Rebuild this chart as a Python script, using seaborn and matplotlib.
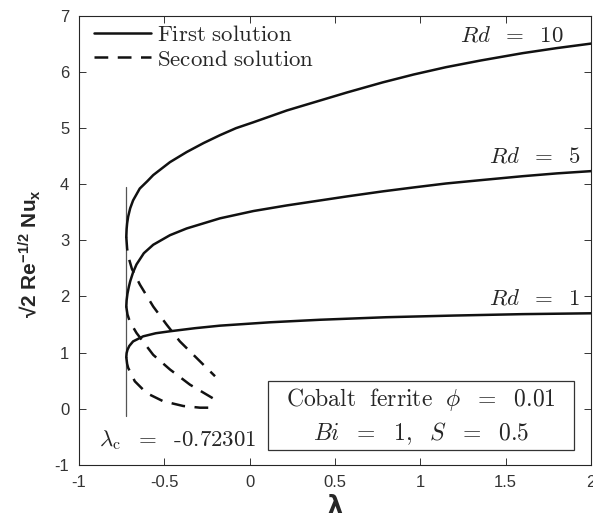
import numpy as np
import pandas as pd
import matplotlib
matplotlib.use("Agg")
import matplotlib.pyplot as plt
from matplotlib.lines import Line2D
from matplotlib.patches import Rectangle
import seaborn as sns

# ---- data ----
lam_c = -0.72301
x_rd10 = [-0.723, -0.721, -0.718, -0.712, -0.70, -0.683, -0.644, -0.60, -0.565, -0.467, -0.369,
          -0.27, -0.174, -0.08, 0.022, 0.218, 0.394, 0.57, 0.78, 0.961, 1.15, 1.355, 1.6, 1.8, 2.0]
first_rd10 = [3.06, 3.20, 3.30, 3.42, 3.57, 3.71, 3.92, 4.05, 4.16, 4.39, 4.57,
              4.73, 4.87, 4.995, 5.10, 5.31, 5.47, 5.63, 5.81, 5.95, 6.08, 6.20, 6.33, 6.42, 6.50]
x_rd5 = [-0.723, -0.721, -0.716, -0.708, -0.70, -0.683, -0.663, -0.62, -0.565, -0.467, -0.369,
         -0.174, 0.022, 0.218, 0.394, 0.57, 0.78, 0.961, 1.15, 1.355, 1.6, 1.8, 2.0]
first_rd5 = [1.82, 1.93, 2.05, 2.17, 2.27, 2.43, 2.57, 2.77, 2.92, 3.09, 3.21,
             3.39, 3.52, 3.62, 3.70, 3.78, 3.87, 3.94, 4.01, 4.07, 4.14, 4.19, 4.23]
x_rd1 = [-0.723, -0.721, -0.716, -0.705, -0.683, -0.624, -0.55, -0.467, -0.32, -0.174,
         0.12, 0.413, 0.8, 1.2, 1.6, 2.0]
first_rd1 = [0.92, 0.99, 1.05, 1.12, 1.20, 1.29, 1.345, 1.38, 1.435, 1.48,
             1.54, 1.585, 1.63, 1.66, 1.685, 1.70]

x_sec_rd10 = [-0.723, -0.718, -0.71, -0.69, -0.643, -0.565, -0.487, -0.409, -0.311, -0.203]
sec_rd10 = [3.06, 2.85, 2.70, 2.49, 2.21, 1.82, 1.50, 1.20, 0.905, 0.58]
x_sec_rd5 = [-0.723, -0.716, -0.702, -0.663, -0.565, -0.467, -0.35, -0.203]
sec_rd5 = [1.82, 1.68, 1.55, 1.35, 0.96, 0.70, 0.43, 0.165]
x_sec_rd1 = [-0.723, -0.718, -0.712, -0.673, -0.604, -0.507, -0.389, -0.291, -0.203]
sec_rd1 = [0.92, 0.80, 0.73, 0.49, 0.28, 0.135, 0.05, 0.02, 0.02]

rd_labels = [r"$Rd\;\ =\;\ 10$", r"$Rd\;\ =\;\ 5$", r"$Rd\;\ =\;\ 1$"]
x_ticks = [-1, -0.5, 0, 0.5, 1, 1.5, 2]
x_ticklabels = ["-1", "-0.5", "0", "0.5", "1", "1.5", "2"]
y_ticks = [-1, 0, 1, 2, 3, 4, 5, 6, 7]
y_ticklabels = ["-1", "0", "1", "2", "3", "4", "5", "6", "7"]

# ---- style ----
sns.set_style("ticks")
plt.rcParams["font.family"] = ["Liberation Sans", "DejaVu Sans"]
plt.rcParams["mathtext.fontset"] = "custom"
plt.rcParams["mathtext.rm"] = "Liberation Sans"
plt.rcParams["mathtext.bf"] = "Liberation Sans:bold"
plt.rcParams["mathtext.it"] = "Liberation Sans:italic"

fig = plt.figure(figsize=(5.93, 5.18), dpi=100)
ax = fig.add_axes([79 / 593, 1 - 465 / 518, (591 - 79) / 593, (465 - 15.5) / 518])

lw = 1.8
ink = "#111111"
dash = (0, (5.5, 3.8))
for xs, ys in [(x_rd10, first_rd10), (x_rd5, first_rd5), (x_rd1, first_rd1)]:
    sns.lineplot(x=xs, y=ys, ax=ax, color=ink, linewidth=lw, sort=False, estimator=None)
for xs, ys in [(x_sec_rd10, sec_rd10), (x_sec_rd5, sec_rd5), (x_sec_rd1, sec_rd1)]:
    sns.lineplot(x=xs, y=ys, ax=ax, color=ink, linewidth=lw, sort=False, estimator=None,
                 linestyle=dash)

ax.plot([lam_c, lam_c], [-0.13, 3.95], color="#555555", linewidth=0.9, zorder=1)

ax.set_xlim(-1, 2)
ax.set_ylim(-1, 7)
ax.set_xticks(x_ticks)
ax.set_xticklabels(x_ticklabels)
ax.set_yticks(y_ticks)
ax.set_yticklabels(y_ticklabels)
ax.tick_params(direction="in", length=5, width=0.7, top=True, right=True,
               labelsize=12, colors="#333333", pad=7)
for s in ax.spines.values():
    s.set_visible(True)
    s.set_color("#262626")
    s.set_linewidth(0.8)

ax.set_xlabel(r"$\mathbf{\lambda}$", fontsize=17, math_fontfamily="dejavusans", va="top")
ax.xaxis.set_label_coords(0.5, -0.066)
ax.set_ylabel(r"√2 Re$^{\mathbf{-1/2}}$ Nu$_{\mathbf{x}}$", fontsize=15, fontweight="bold")
ax.yaxis.set_label_coords(-0.071, 0.47)

# legend
handles = [Line2D([], [], color=ink, lw=lw, linestyle="-"),
           Line2D([], [], color=ink, lw=lw, linestyle=dash)]
leg = ax.legend(handles, [r"$\mathrm{First\ solution}$", r"$\mathrm{Second\ solution}$"],
                loc="upper left", bbox_to_anchor=(0.007, 1.008), frameon=False, fontsize=16.5,
                handlelength=2.5, handletextpad=0.25, labelspacing=0.05, borderaxespad=0.3,
                borderpad=0.2)
for t in leg.get_texts():
    t.set_math_fontfamily("cm")

# Rd labels
ax.text(1.84, 6.66, rd_labels[0], ha="right", va="center", fontsize=16.5, math_fontfamily="cm")
ax.text(1.94, 4.50, rd_labels[1], ha="right", va="center", fontsize=16.5, math_fontfamily="cm")
ax.text(1.94, 1.98, rd_labels[2], ha="right", va="center", fontsize=16.5, math_fontfamily="cm")

# critical value label
ax.text(-0.422, -0.56, r"$\lambda_{\mathrm{c}}\ \ =\ \ $" + "-0.72301", ha="center", va="center",
        fontsize=16.5, family=["cmr10", "DejaVu Serif"], math_fontfamily="cm")

# info box
ax.add_patch(Rectangle((0.108, -0.74), 1.899 - 0.108, 0.502 + 0.74, facecolor="white",
                       edgecolor="#333333", linewidth=0.9, zorder=3))
ax.text(1.003, 0.16, r"$\mathrm{Cobalt\ \ ferrite}\ \ \phi\ \ =\ \ 0.01$",
        ha="center", va="center", fontsize=17, math_fontfamily="cm", zorder=4)
ax.text(1.003, -0.44, r"$Bi\ \ =\ \ 1,\ \ S\ \ =\ \ 0.5$",
        ha="center", va="center", fontsize=17, math_fontfamily="cm", zorder=4)

fig.savefig("out.png", dpi=100)
